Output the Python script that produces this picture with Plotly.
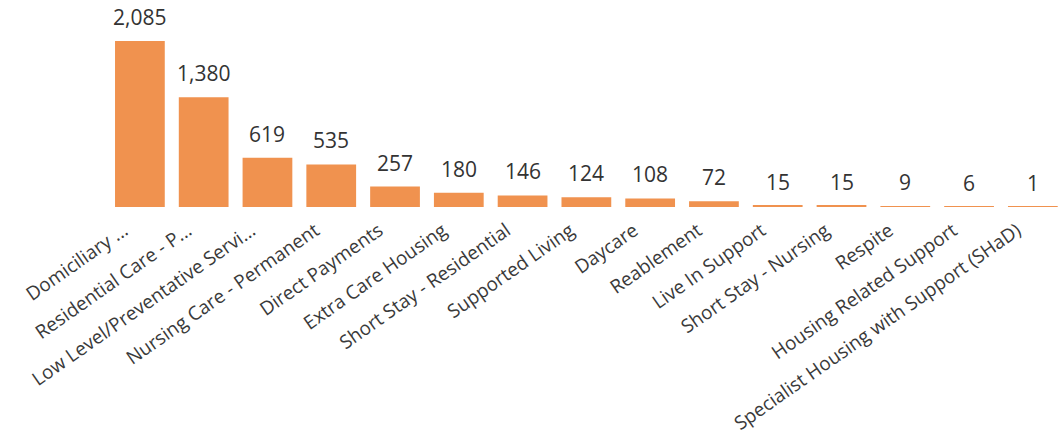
import plotly.graph_objects as go

# Service categories and client counts
categories = [
    "Domiciliary ...",
    "Residential Care - P...",
    "Low Level/Preventative Servi...",
    "Nursing Care - Permanent",
    "Direct Payments",
    "Extra Care Housing",
    "Short Stay - Residential",
    "Supported Living",
    "Daycare",
    "Reablement",
    "Live In Support",
    "Short Stay - Nursing",
    "Respite",
    "Housing Related Support",
    "Specialist Housing with Support (SHaD)",
]
counts = [2085, 1380, 619, 535, 257, 180, 146, 124, 108, 72, 15, 15, 9, 6, 1]

BAR_COLOR = "#F0924F"
FONT = "Open Sans, Segoe UI, sans-serif"

fig = go.Figure(
    go.Bar(
        x=categories,
        y=counts,
        marker=dict(color=BAR_COLOR, line=dict(width=0)),
        hoverinfo="x+y",
    )
)

# Value labels sit a little above each bar
for cat, v in zip(categories, counts):
    fig.add_annotation(
        x=cat, y=v, text=f"{v:,}", showarrow=False,
        yanchor="bottom", yshift=8,
        font=dict(family=FONT, size=21, color="#333333"),
    )

fig.update_layout(
    width=1059,
    height=437,
    margin=dict(l=108, r=0, t=0, b=230),
    paper_bgcolor="white",
    plot_bgcolor="white",
    showlegend=False,
    bargap=0.22,
    xaxis=dict(
        type="category",
        range=[-0.5, 14.41],
        tickangle=-35,
        tickfont=dict(family=FONT, size=19, color="#3a3a3a"),
        ticklabelstandoff=8,
        ticklabelshift=-16,
        showgrid=False,
        showline=False,
        zeroline=False,
        ticks="",
    ),
    yaxis=dict(
        range=[0, 2600],
        visible=False,
        showgrid=False,
        zeroline=False,
    ),
)

fig.write_html("out.html")
